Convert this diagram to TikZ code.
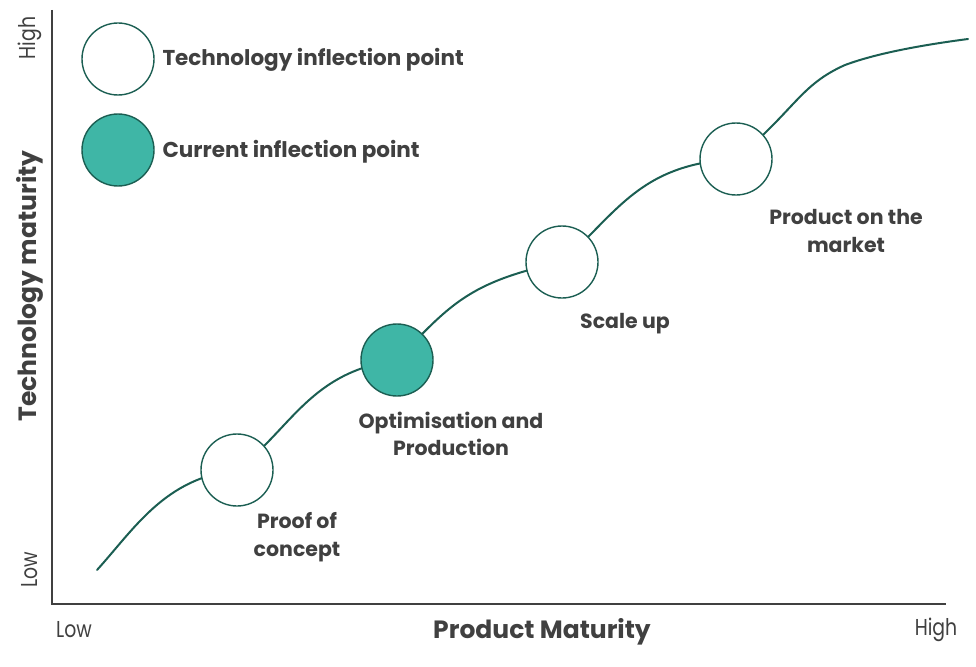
\documentclass[tikz,border=0pt]{standalone}
\usepackage{fontspec}
\setmainfont{Poppins}
\definecolor{txt}{HTML}{404040}
\definecolor{curve}{HTML}{1B5E52}
\definecolor{teal}{HTML}{3FB6A6}
\begin{document}
\begin{tikzpicture}[x=1pt,y=-1pt,
  pt/.style={circle,draw=curve,line width=1.4pt,fill=white,minimum size=72pt,inner sep=0pt},
  lbl/.style={text=txt,font=\bfseries\fontsize{20.5}{27.5}\selectfont,align=center},
  leg/.style={text=txt,font=\bfseries\fontsize{21.5}{24}\selectfont,anchor=west},
  ax/.style={text=txt,font=\fontsize{23}{25}\selectfont},
  axt/.style={text=txt,font=\bfseries\fontsize{25}{27}\selectfont}]
\useasboundingbox (0,0) rectangle (976,666);
% axes
\coordinate (top) at (52,10);
\coordinate (orig) at (52,604);
\coordinate (right) at (946,604);
\draw[txt,line width=2.2pt] (top) -- (orig) -- (right);
% curve
\coordinate (s0) at (97,570);
\draw[curve,line width=2pt,line cap=round]
  (s0) .. controls (135,528) and (165,478) .. (237,470)
  (237,470) .. controls (292,428) and (310,372) .. (397,360)
  (397,360) .. controls (450,305) and (468,282) .. (562,262)
  (562,262) .. controls (618,212) and (640,164) .. (736,159)
  (736,159) .. controls (795,110) and (800,85) .. (845,65)
  .. controls (880,52) and (930,44) .. (968,39);
% points
\node[pt] (p1) at (237,470) {};
\node[pt,fill=teal] (p2) at (397,360) {};
\node[pt] (p3) at (562,262) {};
\node[pt] (p4) at (736,159) {};
% labels
\node[lbl] (l1) at (297,537) {Proof of\\concept};
\node[lbl] (l2) at (451,434) {Optimisation and\\Production};
\node[lbl] (l3) at (625,324) {Scale up};
\node[lbl] (l4) at (846,231) {Product on the\\market};
% legend
\node[pt] (g1) at (118,59) {};
\node[pt,fill=teal] (g2) at (118,150) {};
\node[leg] (t1) at (159,60) {Technology inflection point};
\node[leg] (t2) at (159,152) {Current inflection point};
% axis labels
\node[ax] (xl) at (74,630) {\scalebox{0.82}[1]{Low}};
\node[ax] (xh) at (936,630) {\scalebox{0.82}[1]{High}};
\node[axt] (xt) at (542,632) {Product Maturity};
\node[ax,rotate=90] (yh) at (30,38) {\scalebox{0.82}[1]{High}};
\node[ax,rotate=90] (yl) at (30,570) {\scalebox{0.82}[1]{Low}};
\node[axt,rotate=90] (yt) at (30,286) {Technology maturity};
\end{tikzpicture}
\end{document}
